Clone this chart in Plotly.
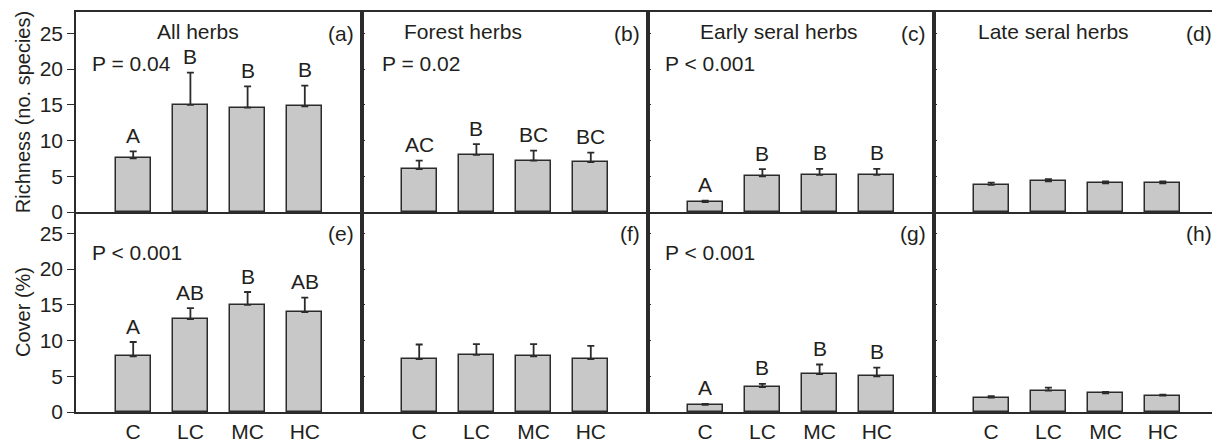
"""Herb richness and cover by treatment - 2x4 bar panels with one-sided error bars."""
import plotly.graph_objects as go
from plotly.subplots import make_subplots

# data
groups = ["C", "LC", "MC", "HC"]

rich_all = [7.5, 15.0, 14.6, 14.8]
rich_all_se = [1.0, 4.5, 3.0, 2.9]
rich_forest = [6.0, 8.0, 7.2, 7.0]
rich_forest_se = [1.2, 1.5, 1.4, 1.3]
rich_early = [1.4, 5.0, 5.2, 5.2]
rich_early_se = [0.2, 1.0, 0.85, 0.85]
rich_late = [3.8, 4.3, 4.0, 4.0]
rich_late_se = [0.3, 0.3, 0.28, 0.28]

cover_all = [7.8, 13.0, 15.0, 14.0]
cover_all_se = [2.0, 1.55, 1.8, 2.0]
cover_forest = [7.4, 8.0, 7.8, 7.4]
cover_forest_se = [2.05, 1.5, 1.7, 1.85]
cover_early = [1.0, 3.5, 5.3, 5.0]
cover_early_se = [0.15, 0.45, 1.35, 1.2]
cover_late = [2.0, 3.0, 2.6, 2.3]
cover_late_se = [0.22, 0.42, 0.22, 0.14]

rich_letters = [["A", "B", "B", "B"], ["AC", "B", "BC", "BC"], ["A", "B", "B", "B"], None]
cover_letters = [["A", "AB", "B", "AB"], None, ["A", "B", "B", "B"], None]

titles = ["All herbs", "Forest herbs", "Early seral herbs", "Late seral herbs"]
rich_p = ["P = 0.04", "P = 0.02", "P < 0.001", None]
cover_p = ["P < 0.001", None, "P < 0.001", None]
tags = ["(a)", "(b)", "(c)", "(d)", "(e)", "(f)", "(g)", "(h)"]

rich_means = [rich_all, rich_forest, rich_early, rich_late]
rich_ses = [rich_all_se, rich_forest_se, rich_early_se, rich_late_se]
cover_means = [cover_all, cover_forest, cover_early, cover_late]
cover_ses = [cover_all_se, cover_forest_se, cover_early_se, cover_late_se]

_INK = "#231F20"
_LINE = "#2B2B2B"
_BAR = "#C8C8C9"
_FONT = "Liberation Sans, Arial, sans-serif"
_SIZE = 21

title_x = [1.38, 0.70, 0.87, 0.73]
p_x = [0.25, 0.31, 0.26, 0.22]
pos = [1, 2, 3, 4]

fig = make_subplots(rows=2, cols=4, horizontal_spacing=0, vertical_spacing=0)

rows = [(rich_means, rich_ses, rich_letters, rich_p, 20.8),
        (cover_means, cover_ses, cover_letters, cover_p, 22.4)]

for r, (means, ses, letters, pvals, p_y) in enumerate(rows, start=1):
    for c in range(1, 5):
        m, s = means[c - 1], ses[c - 1]
        fig.add_trace(go.Bar(
            x=pos, y=m, width=0.61,
            marker=dict(color=_BAR, line=dict(color=_LINE, width=1.5)),
            error_y=dict(type="data", array=s, arrayminus=[0] * 4, symmetric=False,
                         color=_LINE, thickness=1.8, width=3.5),
            showlegend=False, hoverinfo="skip",
        ), row=r, col=c)

        idx = (r - 1) * 4 + (c - 1)
        xref = "x" if idx == 0 else f"x{idx + 1}"
        yref = "y" if idx == 0 else f"y{idx + 1}"

        if letters[c - 1]:
            for k, lab in enumerate(letters[c - 1]):
                fig.add_annotation(x=pos[k], y=m[k] + s[k], xref=xref, yref=yref,
                                   text=lab, showarrow=False, yanchor="middle",
                                   yshift=16, font=dict(size=_SIZE, color=_INK))
        if r == 1:
            fig.add_annotation(x=title_x[c - 1], y=25.3, xref=xref, yref=yref,
                               text=titles[c - 1], showarrow=False, xanchor="left",
                               font=dict(size=_SIZE, color=_INK))
        if pvals[c - 1]:
            fig.add_annotation(x=p_x[c - 1], y=p_y, xref=xref, yref=yref,
                               text=pvals[c - 1], showarrow=False, xanchor="left",
                               font=dict(size=_SIZE, color=_INK))
        fig.add_annotation(x=5, y=25, xref=xref, yref=yref, text=tags[idx],
                           showarrow=False, xanchor="right", xshift=-6,
                           font=dict(size=_SIZE, color=_INK))

        fig.update_xaxes(range=[0, 5], tickvals=pos, ticktext=groups,
                         showticklabels=(r == 2), ticks="", showgrid=False,
                         zeroline=False, showline=True, linecolor=_LINE,
                         linewidth=2, mirror=(r == 1),
                         tickfont=dict(size=_SIZE, color=_INK), row=r, col=c)
        fig.update_yaxes(range=[0, 28], tickvals=[0, 5, 10, 15, 20, 25],
                         showgrid=False, zeroline=False, showline=True,
                         linecolor=_LINE, linewidth=1.6, mirror=(c < 4),
                         ticks="outside" if c == 1 else "inside",
                         ticklen=7 if c == 1 else 3, tickcolor=_LINE, tickwidth=1.3,
                         showticklabels=(c == 1),
                         tickfont=dict(size=_SIZE, color=_INK), row=r, col=c)

fig.update_yaxes(title=dict(text="Richness (no. species)", font=dict(size=20, color=_INK),
                            standoff=4), row=1, col=1)
fig.update_yaxes(title=dict(text="Cover (%)", font=dict(size=20, color=_INK),
                            standoff=4), row=2, col=1)

# page body adds an 8px margin, so the figure is 8px smaller than the window
fig.update_layout(
    width=1212, height=434,
    margin=dict(l=68, r=0, t=4, b=30),
    paper_bgcolor="#FFFFFF", plot_bgcolor="#FFFFFF",
    font=dict(family=_FONT, size=_SIZE, color=_INK),
    bargap=0,
)

fig.write_html("out.html")
